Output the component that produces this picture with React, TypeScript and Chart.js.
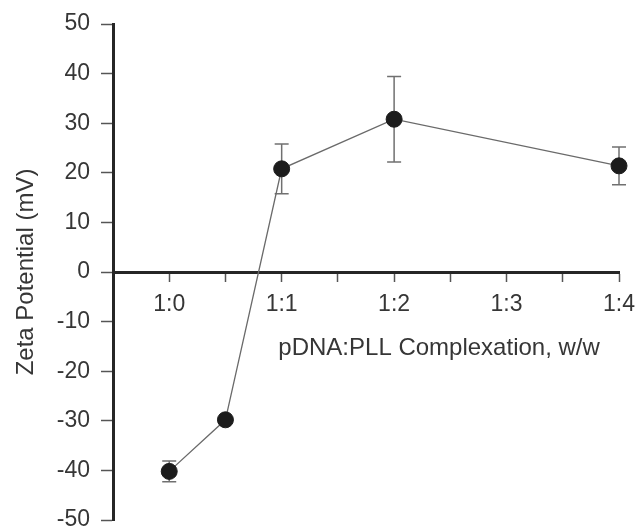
import React, { useEffect, useRef } from 'react';
import { Chart, registerables } from 'chart.js';

Chart.register(...registerables);

// ---- data ----
const xTickLabels = ['', '1:0', '', '1:1', '', '1:2', '', '1:3', '', '1:4'];
const ratioPositions = [1, 2, 3, 5, 9];
const zetaMeans = [-40.2, -29.8, 20.8, 30.8, 21.4];
const zetaErrors = [2.1, 0, 5.0, 8.6, 3.8];
const yMin = -50;
const yMax = 50;
const yStep = 10;
const xMin = 0;
const xMax = 9;
const xTitle = 'pDNA:PLL Complexation, w/w';
const yTitle = 'Zeta Potential (mV)';

const FONT = '"Liberation Sans", Arial, Helvetica, sans-serif';

const errorBarPlugin = {
  id: 'errorBars',
  beforeDatasetsDraw(chart: any) {
    const { ctx, scales } = chart;
    const x = scales.x;
    const y = scales.y;
    ctx.save();
    ctx.strokeStyle = '#707070';
    ctx.lineWidth = 1.5;
    ratioPositions.forEach((xv, i) => {
      const e = zetaErrors[i];
      if (!e) return;
      const px = x.getPixelForValue(xv);
      const top = y.getPixelForValue(zetaMeans[i] + e);
      const bot = y.getPixelForValue(zetaMeans[i] - e);
      ctx.beginPath();
      ctx.moveTo(px, top);
      ctx.lineTo(px, bot);
      ctx.moveTo(px - 7, top);
      ctx.lineTo(px + 7, top);
      ctx.moveTo(px - 7, bot);
      ctx.lineTo(px + 7, bot);
      ctx.stroke();
    });
    ctx.restore();
  },
};

const xTitlePlugin = {
  id: 'xTitleText',
  afterDraw(chart: any) {
    const { ctx, scales } = chart;
    const cx = scales.x.getPixelForValue(5.8);
    const by = scales.y.getPixelForValue(0) + 83;
    ctx.save();
    ctx.font = `24px ${FONT}`;
    ctx.fillStyle = '#363636';
    ctx.textAlign = 'center';
    ctx.textBaseline = 'alphabetic';
    ctx.fillText(xTitle, cx, by);
    ctx.restore();
  },
};

export default function App() {
  const canvasRef = useRef<HTMLCanvasElement | null>(null);

  useEffect(() => {
    if (!canvasRef.current) return;
    const chart = new Chart(canvasRef.current, {
      type: 'line',
      data: {
        datasets: [
          {
            data: ratioPositions.map((xv, i) => ({ x: xv, y: zetaMeans[i] })),
            borderColor: '#6a6a6a',
            borderWidth: 1.3,
            pointRadius: 8,
            pointHoverRadius: 8,
            pointBackgroundColor: '#1c1c1c',
            pointBorderColor: '#1c1c1c',
            pointBorderWidth: 1,
            tension: 0,
            clip: false as any,
          },
        ],
      },
      options: {
        animation: false,
        responsive: true,
        maintainAspectRatio: false,
        layout: { padding: { left: 0, right: 20, top: 24, bottom: 8 } },
        plugins: {
          legend: { display: false },
          tooltip: { enabled: false },
        },
        scales: {
          x: {
            type: 'linear',
            min: xMin,
            max: xMax,
            position: { y: 0 } as any,
            border: { display: true, color: '#262626', width: 3 },
            grid: {
              display: true,
              drawOnChartArea: false,
              drawTicks: true,
              tickLength: 8,
              tickColor: '#555',
              tickWidth: 1.5,
            },
            ticks: {
              stepSize: 1,
              autoSkip: false,
              maxRotation: 0,
              padding: 11,
              color: '#363636',
              font: { family: FONT, size: 23 },
              callback: (v: any) => xTickLabels[Math.round(Number(v))] ?? '',
            },
            afterFit: (scale: any) => {
              scale.paddingLeft = 0;
              scale.paddingRight = 0;
            },
          },
          y: {
            type: 'linear',
            position: 'left',
            min: yMin,
            max: yMax,
            border: { display: true, color: '#262626', width: 3 },
            grid: {
              display: true,
              drawOnChartArea: false,
              drawTicks: true,
              tickLength: 12,
              tickColor: '#555',
              tickWidth: 1.5,
            },
            ticks: {
              stepSize: yStep,
              padding: 11,
              color: '#363636',
              font: { family: FONT, size: 23 },
            },
            title: {
              display: true,
              text: yTitle,
              color: '#363636',
              font: { family: FONT, size: 24 },
              padding: { top: 12, bottom: 0 },
            },
            afterFit: (scale: any) => {
              scale.width = 113;
              scale.paddingTop = 0;
              scale.paddingBottom = 0;
            },
          },
        },
      },
      plugins: [errorBarPlugin, xTitlePlugin],
    });
    return () => chart.destroy();
  }, []);

  return (
    <div
      style={{
        position: 'fixed',
        left: 0,
        top: 0,
        width: 639,
        height: 529,
        background: '#ffffff',
      }}
    >
      <canvas ref={canvasRef} />
    </div>
  );
}
